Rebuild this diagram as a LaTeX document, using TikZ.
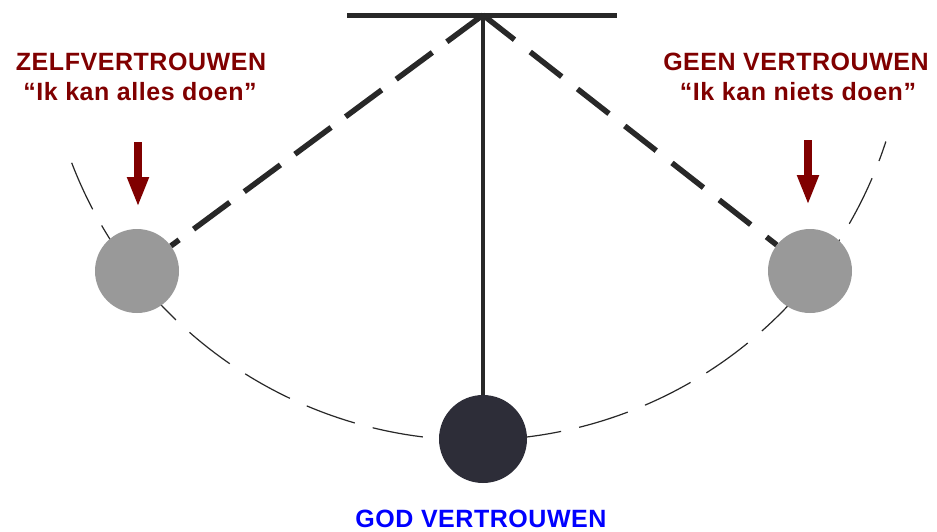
\documentclass[tikz,border=0pt]{standalone}
\usepackage{fontspec}
\setmainfont{Liberation Sans}
\newfontfamily\lblfont[LetterSpace=2.2]{Liberation Sans}
\usetikzlibrary{arrows.meta}
\definecolor{darkred}{RGB}{128,0,0}
\definecolor{ink}{RGB}{40,40,40}
\definecolor{ballgray}{RGB}{153,153,153}
\definecolor{balldark}{RGB}{45,45,56}
\definecolor{godblue}{RGB}{0,0,255}
\begin{document}
\begin{tikzpicture}[x=1pt,y=-1pt,
  lbl/.style={inner sep=0pt, anchor=base, font=\lblfont\bfseries\fontsize{25}{30}\selectfont},
  ball/.style={circle, draw=none, inner sep=0pt},
  barline/.style={draw=ink, line width=5pt},
  rodline/.style={draw=ink, line width=4pt},
  tether/.style={draw=ink, line width=5.5pt, line cap=butt},
  arcline/.style={draw=ink, line width=1.2pt, dash pattern=on 51pt off 18.5pt},
  redarrow/.style={draw=darkred, line width=8pt, -{Triangle[length=30pt,width=20pt]}}
]
\useasboundingbox[fill=white] (0,0) rectangle (937,531);

% swing arc (behind balls)
\coordinate (arcc) at (475,8);
\draw[arcline] (arcc) ++(159:432) arc[start angle=159, end angle=18, radius=432];

% balls
\node[ball, fill=ballgray, minimum size=84pt] (lball) at (137,271) {};
\node[ball, fill=ballgray, minimum size=84pt] (rball) at (810,271) {};
\node[ball, fill=balldark, minimum size=88pt] (bball) at (483,439) {};

% frame
\coordinate (barL) at (347,15);
\coordinate (barR) at (617,15);
\coordinate (pivot) at (483,15);
\draw[barline] (barL) -- (barR);
\draw[rodline] (pivot) -- (bball);
\draw[tether, dash pattern=on 45pt off 18pt] (pivot) -- (lball);
\draw[tether, dash pattern=on 40pt off 20pt] (pivot) -- (rball);

% arrows
\coordinate (la1) at (138,142);
\coordinate (la2) at (138,207);
\coordinate (ra1) at (808,140);
\coordinate (ra2) at (808,205);
\draw[redarrow] (la1) -- (la2);
\draw[redarrow] (ra1) -- (ra2);

% texts
\node[lbl, text=darkred] (lt1) at (141,70) {ZELFVERTROUWEN};
\node[lbl, text=darkred] (lt2) at (140,100) {“Ik kan alles doen”};
\node[lbl, text=darkred] (rt1) at (796,70) {GEEN VERTROUWEN};
\node[lbl, text=darkred] (rt2) at (798,100) {“Ik kan niets doen”};
\node[lbl, text=godblue] (bt) at (481,527) {GOD VERTROUWEN};
\end{tikzpicture}
\end{document}
